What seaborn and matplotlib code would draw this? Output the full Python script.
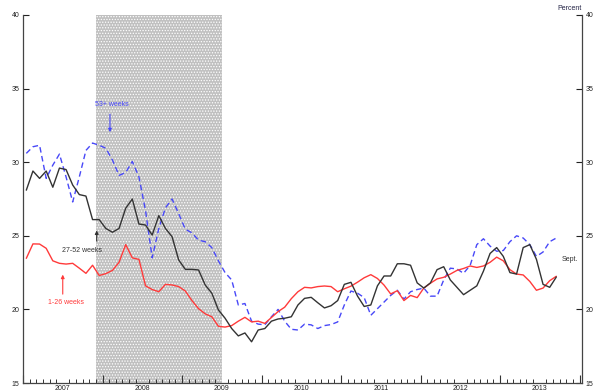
import numpy as np
import pandas as pd
import matplotlib
matplotlib.use("Agg")
import matplotlib.pyplot as plt
import seaborn as sns
from matplotlib.ticker import FixedLocator, NullFormatter

# ---------------- data (monthly, Jan 2007 - Sept 2013) ----------------
start_year = 2007
weeks_1_26 = [23.47, 24.45, 24.44, 24.15, 23.3, 23.13, 23.08, 23.13, 22.8, 22.45, 23.0, 22.3,
              22.43, 22.65, 23.2, 24.4, 23.5, 23.4, 21.6, 21.35, 21.2, 21.7, 21.66, 21.55,
              21.25, 20.6, 20.05, 19.7, 19.5, 18.85, 18.8, 18.9, 19.2, 19.46, 19.15, 19.2,
              19.05, 19.45, 19.85, 20.15, 20.73, 21.2, 21.5, 21.46, 21.55, 21.59, 21.55, 21.2,
              21.4, 21.58, 21.85, 22.15, 22.36, 22.1, 21.65, 21.05, 21.27, 20.6, 20.95, 20.8,
              21.45, 21.78, 22.07, 22.18, 22.4, 22.65, 22.78, 22.95, 22.85, 22.95, 23.2, 23.55,
              23.3, 22.7, 22.4, 22.34, 21.9, 21.3, 21.45, 21.95, 22.25]
weeks_27_52 = [28.1, 29.4, 28.9, 29.4, 28.3, 29.6, 29.5, 28.45, 27.8, 27.7, 26.1, 26.1,
               25.5, 25.24, 25.5, 26.87, 27.5, 25.8, 25.73, 25.05, 26.37, 25.5, 24.94, 23.36,
               22.72, 22.72, 22.68, 21.66, 21.1, 19.96, 19.4, 18.7, 18.2, 18.4, 17.8, 18.6,
               18.7, 19.2, 19.35, 19.4, 19.5, 20.3, 20.75, 20.82, 20.45, 20.1, 20.25, 20.6,
               21.7, 21.84, 20.9, 20.2, 20.3, 21.6, 22.27, 22.27, 23.1, 23.1, 23.0, 21.8,
               21.45, 21.8, 22.7, 22.9, 22.0, 21.5, 21.0, 21.3, 21.6, 22.6, 23.8, 24.2,
               23.6, 22.5, 22.4, 24.2, 24.4, 23.4, 21.7, 21.5, 22.2]
weeks_53_plus = [30.6, 31.05, 31.15, 28.9, 29.8, 30.55, 29.0, 27.3, 29.0, 30.8, 31.3, 31.15,
                 30.95, 30.15, 29.1, 29.3, 30.05, 29.0, 26.7, 23.5, 25.5, 26.9, 27.5, 26.5,
                 25.45, 25.2, 24.7, 24.6, 24.2, 23.3, 22.5, 22.0, 20.3, 20.4, 19.2, 19.0,
                 18.95, 19.5, 20.0, 19.2, 18.65, 18.6, 19.0, 18.95, 18.7, 18.9, 18.97, 19.15,
                 20.3, 21.25, 21.1, 20.8, 19.6, 20.05, 20.5, 20.95, 21.3, 20.7, 21.2, 21.35,
                 21.45, 20.9, 20.9, 22.0, 22.8, 22.75, 22.45, 23.0, 24.4, 24.8, 24.3, 23.95,
                 24.0, 24.6, 25.0, 24.85, 24.4, 23.6, 23.9, 24.6, 24.85]
series_names = ["53+ weeks", "1-26 weeks", "27-52 weeks"]
year_labels = ["2007", "2008", "2009", "2010", "2011", "2012", "2013"]
y_ticks = [15, 20, 25, 30, 35, 40]
recession_start, recession_end = 2007 + 11 / 12, 2009.5

# ---------------- styling ----------------
sns.set_theme(style="white")
plt.rcParams["font.family"] = ["Liberation Sans", "DejaVu Sans"]
plt.rcParams["hatch.linewidth"] = 0.6

c_red = "#FF3A3A"
c_blue = "#4848F8"
c_black = "#333333"
palette = {"53+ weeks": c_blue, "1-26 weeks": c_red, "27-52 weeks": c_black}
dashes = {"53+ weeks": (4, 2.5), "1-26 weeks": "", "27-52 weeks": ""}

n = len(weeks_1_26)
t = start_year + (np.arange(n) + 0.5) / 12
df = pd.DataFrame({
    "t": np.concatenate([t, t, t]),
    "value": weeks_53_plus + weeks_1_26 + weeks_27_52,
    "series": np.repeat(series_names, n),
})

fig = plt.figure(figsize=(6, 3.91), dpi=100)
ax = fig.add_axes([23 / 600, 8 / 391, 559 / 600, 368 / 391])

ax.axvspan(recession_start, recession_end, facecolor="#c0c0c0", edgecolor="white",
           hatch="......", linewidth=0, zorder=0)

sns.lineplot(data=df, x="t", y="value", hue="series", style="series",
             palette=palette, dashes=dashes, estimator=None, legend=False,
             linewidth=1.0, ax=ax, hue_order=series_names, style_order=series_names)

ax.set_xlim(2007.0, 2007 + 559 / 79.5)
ax.set_ylim(15, 40)
ax.set_xlabel("")
ax.set_ylabel("")

# spines
for side in ["left", "right", "bottom"]:
    ax.spines[side].set_visible(True)
    ax.spines[side].set_color("#444444")
    ax.spines[side].set_linewidth(0.9)
ax.spines["top"].set_visible(False)

# y ticks both sides
ax.yaxis.set_major_locator(FixedLocator(y_ticks))
ax.yaxis.set_ticks_position("both")
ax.tick_params(axis="y", which="major", direction="in", length=4, width=0.8,
               labelsize=5, labelleft=True, labelright=True, pad=2.5,
               colors="#222222")

# x: labels at mid-year, monthly minor ticks, taller ticks at year boundaries
years = np.arange(2007, 2014)
ax.xaxis.set_major_locator(FixedLocator(years + 0.5))
ax.set_xticklabels(year_labels)
ax.xaxis.set_minor_locator(FixedLocator(2007 + np.arange(0, 85) / 12))
ax.tick_params(axis="x", which="major", length=0, labelsize=5, pad=1.5, colors="#222222")
ax.tick_params(axis="x", which="minor", direction="in", length=3, width=0.7,
               color="#333333", bottom=True)
sec = ax.secondary_xaxis("bottom")
sec.xaxis.set_major_locator(FixedLocator(list(np.arange(2007, 2015))))
sec.xaxis.set_major_formatter(NullFormatter())
sec.tick_params(axis="x", direction="in", length=5.5, width=0.8, color="#333333")
sec.spines["bottom"].set_visible(False)

# annotations
ax.text(2008.12, 33.95, "53+ weeks", color=c_blue, fontsize=5, ha="center", va="center")
ax.annotate("", xy=(2008.094, 31.85), xytext=(2008.094, 33.45),
            arrowprops=dict(arrowstyle="-|>", color=c_blue, lw=0.8, mutation_scale=5))
ax.text(2007.736, 23.99, "27-52 weeks", color=c_black, fontsize=5, ha="center", va="center")
ax.annotate("", xy=(2007.927, 25.55), xytext=(2007.927, 24.45),
            arrowprops=dict(arrowstyle="-|>", color=c_black, lw=0.8, mutation_scale=5))
ax.text(2007.547, 20.46, "1-26 weeks", color=c_red, fontsize=5, ha="center", va="center")
ax.annotate("", xy=(2007.5, 22.55), xytext=(2007.5, 20.85),
            arrowprops=dict(arrowstyle="-|>", color=c_red, lw=0.8, mutation_scale=5))
ax.text(2013.88, 23.42, "Sept.", color="#333333", fontsize=5, ha="center", va="center")
ax.text(1.0, 1.008, "Percent", transform=ax.transAxes, color="#222244", fontsize=5,
        ha="right", va="bottom")

fig.savefig("out.png", dpi=100)
